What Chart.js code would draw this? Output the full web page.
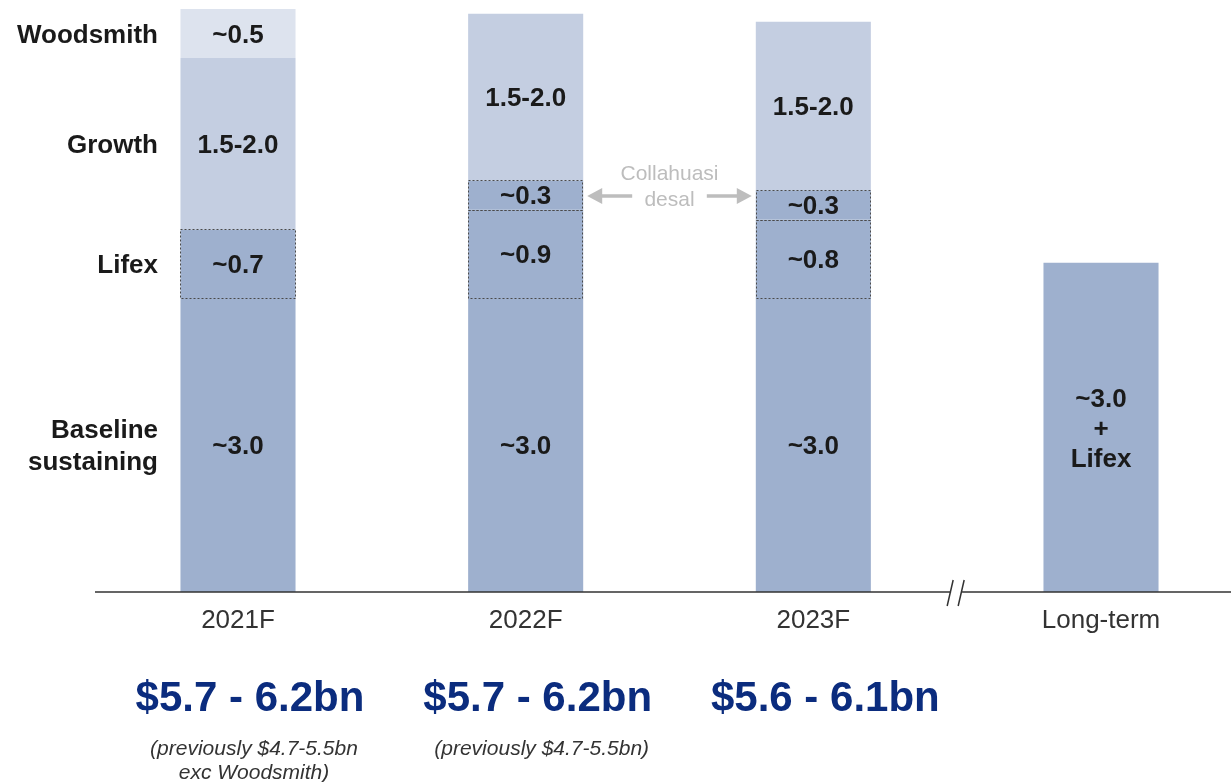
<!DOCTYPE html>
<html>
<head>
<meta charset="utf-8">
<script src="https://cdn.jsdelivr.net/npm/chart.js@4.4.0/dist/chart.umd.min.js"></script>
<style>
  html, body { margin: 0; padding: 0; background: #fff; }
  #wrap { width: 1231px; height: 782px; position: relative; }
</style>
</head>
<body>
<div id="wrap"><canvas id="capexChart"></canvas></div>
<script>
// categorias e valores (bn)
const categories = ['2021F', '2022F', '2023F', 'Long-term'];
const baseline = [3.0, 3.0, 3.0, 3.36];
const lifex = [0.7, 0.9, 0.8, null];
const collahuasi = [null, 0.3, 0.3, null];
const growth = [1.75, 1.7, 1.72, null];
const woodsmith = [0.5, null, null, null];

// rotulos dentro das barras
const baselineText = ['~3.0', '~3.0', '~3.0', ['~3.0', '+', 'Lifex']];
const lifexText = ['~0.7', '~0.9', '~0.8', null];
const collahuasiText = [null, '~0.3', '~0.3', null];
const growthText = ['1.5-2.0', '1.5-2.0', '1.5-2.0', null];
const woodsmithText = ['~0.5', null, null, null];

// rotulos da esquerda e totais
const rowNames = [['Baseline', 'sustaining'], ['Lifex'], null, ['Growth'], ['Woodsmith']];
const totals = ['$5.7 - 6.2bn', '$5.7 - 6.2bn', '$5.6 - 6.1bn', null];
const notes = [['(previously $4.7-5.5bn', 'exc Woodsmith)'], ['(previously $4.7-5.5bn)'], [], []];

const FONT = '"Liberation Sans", Arial, sans-serif';

const labelsPlugin = {
    id: 'labelsPlugin',
    afterDatasetsDraw(chart) {
        const ctx = chart.ctx;
        const texts = [baselineText, lifexText, collahuasiText, growthText, woodsmithText];
        ctx.save();

        // caixas pontilhadas (Lifex e Collahuasi)
        [1, 2].forEach(di => {
            chart.getDatasetMeta(di).data.forEach((bar, i) => {
                if (chart.data.datasets[di].data[i] == null) return;
                const l = Math.round(bar.x - bar.width / 2) + 0.5;
                const r = Math.round(bar.x + bar.width / 2) - 0.5;
                ctx.setLineDash([2, 2]);
                ctx.strokeStyle = '#4a4a4a';
                ctx.lineWidth = 1;
                ctx.strokeRect(l, Math.round(bar.y) + 0.5, r - l, Math.round(bar.base) - Math.round(bar.y));
            });
        });
        ctx.setLineDash([]);

        // valores dentro das barras
        ctx.font = 'bold 26px ' + FONT;
        ctx.fillStyle = '#1a1a1a';
        ctx.textAlign = 'center';
        ctx.textBaseline = 'middle';
        texts.forEach((arr, di) => {
            chart.getDatasetMeta(di).data.forEach((bar, i) => {
                const t = arr[i];
                if (!t) return;
                const cy = (bar.y + bar.base) / 2 + 2;
                const lines = Array.isArray(t) ? t : [t];
                lines.forEach((ln, k) => {
                    ctx.fillText(ln, bar.x, cy + (k - (lines.length - 1) / 2) * 30);
                });
            });
        });

        // nomes das linhas a esquerda, alinhados com a primeira barra
        ctx.textAlign = 'right';
        rowNames.forEach((name, di) => {
            if (!name) return;
            const bar = chart.getDatasetMeta(di).data[0];
            const cy = (bar.y + bar.base) / 2 + 2;
            name.forEach((ln, k) => {
                ctx.fillText(ln, 158, cy + (k - (name.length - 1) / 2) * 32);
            });
        });

        // Collahuasi desal
        const b22 = chart.getDatasetMeta(2).data[1];
        const b23 = chart.getDatasetMeta(2).data[2];
        const ay = (b22.y + b22.base) / 2 + 1;
        const x1 = b22.x + b22.width / 2 + 4;
        const x2 = b23.x - b23.width / 2 - 4;
        const mx = (x1 + x2) / 2;
        ctx.fillStyle = '#bdbdbd';
        ctx.strokeStyle = '#bdbdbd';
        ctx.font = '21px ' + FONT;
        ctx.textAlign = 'center';
        ctx.fillText('Collahuasi', mx, ay - 22);
        ctx.fillText('desal', mx, ay + 4);
        ctx.lineWidth = 3.5;
        ctx.beginPath();
        ctx.moveTo(x1 + 10, ay); ctx.lineTo(x1 + 45, ay);
        ctx.moveTo(x2 - 10, ay); ctx.lineTo(x2 - 45, ay);
        ctx.stroke();
        ctx.beginPath();
        ctx.moveTo(x1, ay); ctx.lineTo(x1 + 15, ay - 8); ctx.lineTo(x1 + 15, ay + 8); ctx.closePath();
        ctx.moveTo(x2, ay); ctx.lineTo(x2 - 15, ay - 8); ctx.lineTo(x2 - 15, ay + 8); ctx.closePath();
        ctx.fill();
        ctx.restore();
    },
    afterDraw(chart) {
        const ctx = chart.ctx;
        const area = chart.chartArea;
        const xs = chart.scales.x;
        const y = area.bottom;
        const brk = (xs.getPixelForValue(2) + xs.getPixelForValue(3)) / 2;
        ctx.save();
        // eixo com quebra
        ctx.strokeStyle = '#333';
        ctx.lineWidth = 1.5;
        ctx.beginPath();
        ctx.moveTo(95, y); ctx.lineTo(brk - 6, y);
        ctx.moveTo(brk + 5, y); ctx.lineTo(1231, y);
        ctx.moveTo(brk - 10, y + 14); ctx.lineTo(brk - 4, y - 12);
        ctx.moveTo(brk + 1, y + 14); ctx.lineTo(brk + 7, y - 12);
        ctx.stroke();

        // totais e notas
        ctx.textAlign = 'center';
        ctx.textBaseline = 'middle';
        totals.forEach((t, i) => {
            if (!t) return;
            const cx = xs.getPixelForValue(i) + 12;
            ctx.font = 'bold 42px ' + FONT;
            ctx.fillStyle = '#0b2c7e';
            ctx.fillText(t, cx, 699);
            ctx.font = 'italic 21px ' + FONT;
            ctx.fillStyle = '#333';
            notes[i].forEach((ln, k) => ctx.fillText(ln, cx + 4, 749 + k * 24));
        });
        ctx.restore();
    }
};

const ctxCapex = document.getElementById('capexChart').getContext('2d');
const capexChart = new Chart(ctxCapex, {
    type: 'bar',
    data: {
        labels: categories,
        datasets: [
            { label: 'Baseline sustaining', data: baseline, backgroundColor: '#9eb0ce' },
            { label: 'Lifex', data: lifex, backgroundColor: '#9eb0ce' },
            { label: 'Collahuasi desal', data: collahuasi, backgroundColor: '#9eb0ce' },
            { label: 'Growth', data: growth, backgroundColor: '#c4cee1' },
            { label: 'Woodsmith', data: woodsmith, backgroundColor: '#dde3ee' }
        ]
    },
    options: {
        responsive: true,
        maintainAspectRatio: false,
        animation: false,
        layout: { padding: { left: 238, right: 130, top: 4, bottom: 0 } },
        datasets: {
            bar: { categoryPercentage: 0.4, barPercentage: 1, borderWidth: 0, clip: false }
        },
        plugins: {
            legend: { display: false },
            tooltip: { enabled: false }
        },
        scales: {
            x: {
                stacked: true,
                offset: false,
                grid: { display: false, drawTicks: false },
                border: { display: false },
                ticks: { color: '#333', padding: 13, font: { size: 26, family: FONT } },
                afterFit: s => { s.height = 190; }
            },
            y: {
                stacked: true,
                display: false,
                min: 0,
                max: 6.0
            }
        }
    },
    plugins: [labelsPlugin]
});
</script>
</body>
</html>
